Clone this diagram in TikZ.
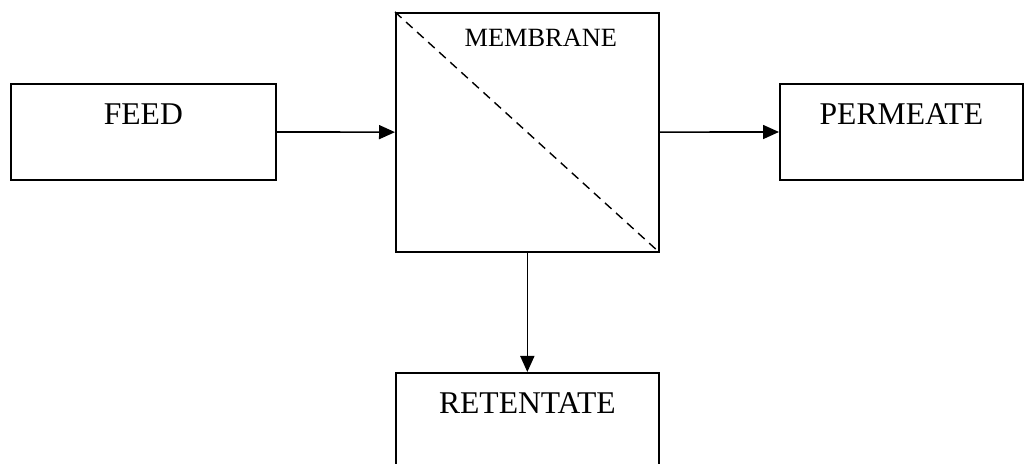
\documentclass[tikz,border=0pt]{standalone}
\usepackage{fontspec}
\setmainfont{Liberation Serif}
\usetikzlibrary{arrows.meta}

\begin{document}
\begin{tikzpicture}[%
	every node/.style={font=\fontsize{18}{20}\selectfont},
	>={Triangle[length=0.32cm, width=0.28cm]}, % filled heads as in the sketch
	line width=0.95pt,
	]
	% -------------------------------------------------
	% Box styles: text sits near the top edge of each box
	\tikzset{
		box/.style={draw, rectangle, inner sep=0pt, anchor=north west},
		stream/.style={box, text height=0.82cm, text depth=1.1cm},
		unit/.style={box, minimum width=5.26cm, minimum height=4.78cm},
		norm/.style={->, draw},
		split/.style={draw, dash pattern=on 5pt off 3.5pt, line width=0.8pt}
	}
	\useasboundingbox (0,0) rectangle (20.7,-9.28);

	\node[stream, minimum width=5.3cm]	(feed)	at (0.2,-1.66)	{FEED};
	\node[unit, label={[anchor=base, xshift=0.27cm, yshift=-0.7cm,
		font=\fontsize{15}{17}\selectfont]north:MEMBRANE}]
										(mem)	at (7.9,-0.24)	{};
	\node[stream, minimum width=4.86cm]	(perm)	at (15.58,-1.66)	{PERMEATE};
	\node[stream, minimum width=5.26cm]	(ret)	at (7.9,-7.44)	{RETENTATE};

	% dashed split line across the membrane unit
	\draw[split] (mem.north west) -- (mem.south east);

	\draw[norm] (feed) -- (mem);
	\draw[norm] (mem) -- (perm);
	\draw[norm] (mem) -- (ret);

\end{tikzpicture}
\end{document}
